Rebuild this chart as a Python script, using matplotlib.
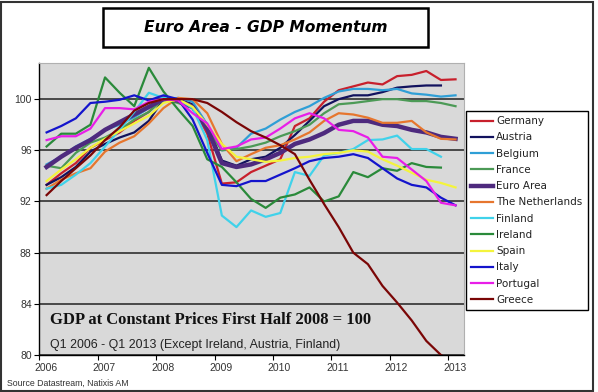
import matplotlib.pyplot as plt
from matplotlib.patches import Rectangle
from matplotlib.transforms import ScaledTranslation
import pandas as pd

# Q1 2006 - Q1 2013, GDP at constant prices, H1 2008 = 100
quarters = pd.period_range("2006Q1", "2013Q1", freq="Q")

germany = [93.3, 94.2, 95.0, 96.2, 96.8, 97.4, 98.3, 99.0, 100.2, 99.8, 99.4, 97.3, 93.4, 93.5, 94.3,
           94.8, 95.3, 97.9, 98.5, 99.8, 100.7, 101.0, 101.3, 101.15, 101.8, 101.9, 102.2, 101.5, 101.55]
austria = [93.3, 93.9, 94.7, 95.9, 96.5, 97.0, 97.4, 98.3, 100.0, 100.0, 99.6, 98.0, 95.2, 94.8, 95.3,
           95.5, 96.2, 97.2, 98.3, 99.45, 100.0, 100.3, 100.3, 100.55, 100.9, 101.0, 101.07, 101.07]
belgium = [94.9, 95.5, 96.3, 96.9, 97.6, 98.0, 98.6, 99.3, 99.9, 100.1, 99.8, 98.0, 96.0, 96.2, 97.3,
           97.7, 98.4, 99.0, 99.45, 100.1, 100.6, 100.8, 100.8, 100.7, 100.8, 100.45, 100.35, 100.2, 100.3]
france = [94.8, 94.6, 95.8, 96.6, 97.0, 97.6, 98.4, 99.0, 100.0, 99.7, 99.3, 97.7, 96.0, 96.1, 96.3,
          96.6, 97.1, 97.5, 98.0, 98.9, 99.6, 99.7, 99.85, 100.0, 100.0, 99.85, 99.85, 99.7, 99.45]
euro_area = [94.7, 95.5, 96.2, 96.8, 97.6, 98.2, 98.8, 99.4, 100.0, 99.9, 99.4, 97.7, 95.0, 94.7, 94.9,
             95.3, 95.8, 96.5, 96.85, 97.35, 98.0, 98.3, 98.3, 98.0, 97.9, 97.6, 97.4, 97.05, 96.9]
netherlands = [93.0, 93.7, 94.2, 94.6, 95.9, 96.6, 97.1, 98.1, 99.3, 100.1, 100.0, 98.9, 96.5, 95.15, 95.7,
               96.2, 96.4, 96.85, 97.4, 98.3, 98.9, 98.8, 98.55, 98.15, 98.15, 98.3, 97.4, 96.9, 96.85]
finland = [93.0, 93.3, 94.1, 95.0, 96.3, 97.6, 99.0, 100.5, 100.1, 100.0, 99.3, 96.8, 90.9, 90.0, 91.3,
           90.8, 91.1, 94.3, 94.0, 95.6, 95.8, 96.1, 96.8, 96.85, 97.15, 96.1, 96.1, 95.5]
ireland = [96.3, 97.3, 97.3, 98.0, 101.7, 100.5, 99.45, 102.45, 100.6, 99.2, 97.9, 95.3, 94.7, 93.5, 92.2,
           91.5, 92.3, 92.55, 93.1, 92.0, 92.4, 94.3, 93.9, 94.6, 94.4, 95.0, 94.7, 94.65]
spain = [93.6, 94.5, 95.3, 96.2, 96.9, 97.5, 98.1, 98.7, 99.7, 100.0, 99.4, 98.0, 96.5, 95.5, 95.3,
         95.1, 95.2, 95.4, 95.5, 95.7, 95.8, 96.0, 95.9, 95.3, 94.8, 94.25, 93.7, 93.45, 93.1]
italy = [97.4, 97.9, 98.5, 99.7, 99.8, 99.95, 100.3, 99.9, 100.3, 100.0, 98.4, 95.8, 93.3, 93.2, 93.6,
         93.6, 94.1, 94.6, 95.15, 95.4, 95.5, 95.7, 95.4, 94.6, 93.8, 93.3, 93.1, 92.3, 91.7]
portugal = [96.8, 97.1, 97.1, 97.7, 99.3, 99.3, 99.2, 99.8, 100.0, 99.9, 98.9, 98.1, 96.1, 96.3, 96.85,
            97.0, 97.7, 98.5, 98.9, 98.5, 97.6, 97.5, 97.0, 95.5, 95.4, 94.5, 93.6, 91.9, 91.7]
greece = [92.5, 93.6, 94.6, 95.6, 96.8, 97.8, 99.1, 99.7, 100.0, 100.0, 100.0, 99.7, 99.0, 98.2, 97.5,
          97.0, 96.4, 95.7, 93.7, 91.8, 90.0, 88.0, 87.1, 85.4, 84.1, 82.7, 81.1, 80.0, 79.3]

countries = ["Germany", "Austria", "Belgium", "France", "Euro Area", "The Netherlands",
             "Finland", "Ireland", "Spain", "Italy", "Portugal", "Greece"]
series = [germany, austria, belgium, france, euro_area, netherlands,
          finland, ireland, spain, italy, portugal, greece]
colors = ["#c8202c", "#12125e", "#2f9fd6", "#4c9a56", "#4e2a7e", "#e6762e",
          "#40d2ea", "#2a8a3a", "#f4f43c", "#1414cc", "#e81ee8", "#7a0606"]

years = list(range(2006, 2014))
yticks = [80, 84, 88, 92, 96, 100]

# points in the middle of each quarter
x = quarters.year + (quarters.quarter - 0.5) / 4

W, H = 598, 392
fig = plt.figure(figsize=(W / 100, H / 100), dpi=100)
ax = fig.add_axes([39.3 / W, 1 - 355 / H, (464 - 39.3) / W, (355 - 62.7) / H])
ax.set_facecolor("#d9d9d9")

for name, vals, col in zip(countries, series, colors):
    lw = 3.2 if name == "Euro Area" else 1.6
    ax.plot(x[:len(vals)], vals, color=col, lw=lw, label=name, solid_joinstyle="round")

ax.set_xlim(2006, 2013.27)
ax.set_ylim(80, 102.85)
ax.set_xticks(years)
ax.set_xticklabels([str(y) for y in years])
ax.set_yticks(yticks)
ax.yaxis.grid(True, color="#222222", lw=1.1)
ax.set_axisbelow(True)
ax.tick_params(axis="both", direction="out", length=3.5, width=0.8, labelsize=7.5,
               labelcolor="#333333", pad=2)
for lbl in ax.get_xticklabels() + ax.get_yticklabels():
    lbl.set_family("Liberation Sans")
for lbl in ax.get_xticklabels():
    lbl.set_transform(lbl.get_transform() + ScaledTranslation(0.065, 0, fig.dpi_scale_trans))
for s in ["top", "right"]:
    ax.spines[s].set_color("#b0b0b0")
for s in ["left", "bottom"]:
    ax.spines[s].set_color("black")
    ax.spines[s].set_linewidth(1.0)

fig.text(50 / W, 1 - 320 / H, "GDP at Constant Prices First Half 2008 = 100", fontsize=12,
         weight="bold", family="Liberation Serif", color="#111111", va="center")
fig.text(50 / W, 1 - 345 / H, "Q1 2006 - Q1 2013 (Except Ireland, Austria, Finland)", fontsize=8.9,
         family="Liberation Sans", color="#222222", va="center")
fig.text(7 / W, 1 - 383 / H, "Source Datastream, Natixis AM", fontsize=6.3,
         family="Liberation Sans", color="#333333", va="center")

# title box
fig.patches.append(Rectangle((103 / W, 1 - 47 / H), 325 / W, 39 / H, transform=fig.transFigure,
                             fill=False, ec="black", lw=1.8))
fig.text(265.5 / W, 1 - 27.5 / H, "Euro Area - GDP Momentum", fontsize=11.2, weight="bold",
         style="italic", family="DejaVu Sans", ha="center", va="center")

# outer chart border
fig.patches.append(Rectangle((1 / W, 1 / H), 592 / W, 389 / H, transform=fig.transFigure,
                             fill=False, ec="#333333", lw=1.5))

leg = ax.legend(loc="upper left", bbox_to_anchor=(466 / W, 1 - 111 / H), bbox_transform=fig.transFigure,
                borderaxespad=0, fancybox=False, framealpha=1, edgecolor="black",
                prop={"family": "DejaVu Sans", "size": 7.5}, handlelength=2.1, handletextpad=0.3,
                labelspacing=0.6, borderpad=0.5)
leg.get_frame().set_linewidth(1.0)
for t in leg.get_texts():
    t.set_color("#222222")

fig.savefig("out.png", dpi=100)
